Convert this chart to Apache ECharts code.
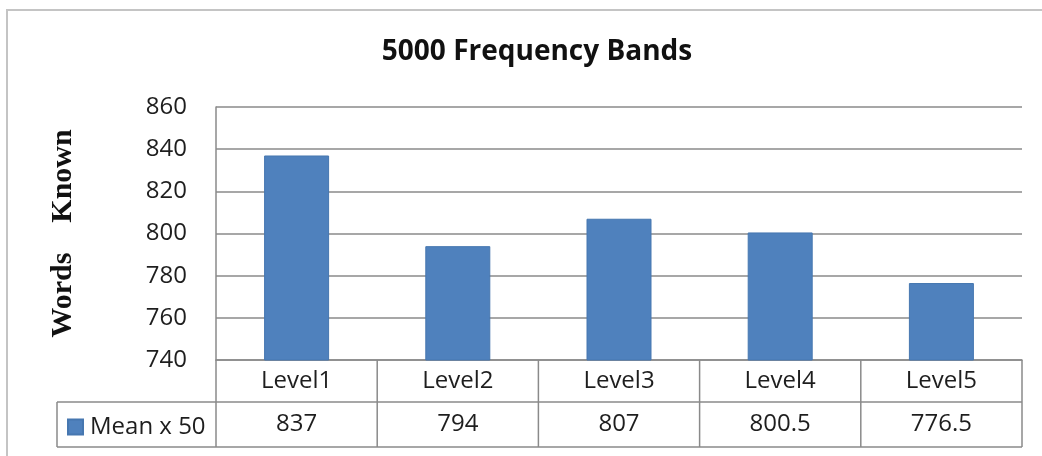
<!DOCTYPE html>
<html>
<head>
<meta charset="utf-8">
<script src="https://cdn.jsdelivr.net/npm/echarts@6/dist/echarts.min.js"></script>
<style>
  html, body { margin: 0; padding: 0; background: #fff; }
  #chart { width: 1042px; height: 456px; }
</style>
</head>
<body>
<div id="chart"></div>
<script>
// Chart data
const titleText = '5000 Frequency Bands';
const categories = ['Level1', 'Level2', 'Level3', 'Level4', 'Level5'];
const meanX50 = [837, 794, 807, 800.5, 776.5];
const seriesName = 'Mean x 50';
const yMin = 740, yMax = 860, yStep = 20;

const BAR = '#4F81BD';
const LINE = '#8a8a8a';
const TEXT = '#1e1e1e';
const SANS = '"Open Sans", "Noto Sans", sans-serif';
const FS = 24;

const chart = echarts.init(document.getElementById('chart'), null, { renderer: 'canvas' });

const gridLeft = 216, gridRight = 20, gridTop = 107, gridBottom = 96;

chart.setOption({
  animation: false,
  backgroundColor: '#fff',
  title: {
    text: titleText,
    left: 532,
    top: 33,
    textAlign: 'center',
    textStyle: { fontFamily: SANS, fontWeight: 'bold', fontSize: 28, color: '#111' }
  },
  legend: {
    left: 62,
    top: 410,
    itemWidth: 15,
    itemHeight: 15,
    itemGap: 8,
    icon: 'rect',
    selectedMode: false,
    textStyle: { fontFamily: SANS, fontSize: FS, color: TEXT, padding: [0, 0, 0, 2] },
    data: [seriesName]
  },
  grid: { left: gridLeft, right: gridRight, top: gridTop, bottom: gridBottom, containLabel: false },
  xAxis: {
    type: 'category',
    data: categories,
    axisLine: { show: true, lineStyle: { color: LINE, width: 1.5 } },
    axisTick: { show: false },
    axisLabel: {
      margin: 21,
      verticalAlign: 'middle',
      fontFamily: SANS,
      fontSize: FS,
      color: TEXT
    },
    splitLine: { show: false }
  },
  yAxis: {
    type: 'value',
    min: yMin,
    max: yMax,
    interval: yStep,
    name: 'Words    Known',
    nameLocation: 'middle',
    nameRotate: 90,
    nameGap: 138,
    nameTextStyle: {
      fontFamily: '"Liberation Serif", "DejaVu Serif", serif',
      fontWeight: 'bold',
      fontSize: 30,
      color: '#111'
    },
    axisLine: { show: true, lineStyle: { color: LINE, width: 1.5 } },
    axisTick: { show: false },
    axisLabel: { margin: 29, fontFamily: SANS, fontSize: FS, color: TEXT },
    splitLine: { show: true, lineStyle: { color: LINE, width: 1.5 } }
  },
  series: [{
    name: seriesName,
    type: 'bar',
    data: meanX50,
    barWidth: 65,
    itemStyle: { color: BAR, borderColor: '#4677b0', borderWidth: 1 }
  }]
});

// Data table beneath the plot: category row (axis labels) and value row
function drawTable() {
  const centers = categories.map(c => chart.convertToPixel({ xAxisIndex: 0 }, c));
  const band = centers.length > 1 ? centers[1] - centers[0] : 100;
  const edges = centers.map(c => c - band / 2);
  edges.push(centers[centers.length - 1] + band / 2);

  const axisY = chart.convertToPixel({ yAxisIndex: 0 }, yMin);
  const rowH1 = 42, rowH2 = 45;
  const midY = axisY + rowH1;
  const botY = midY + rowH2;
  const legendLeft = 57;
  const right = edges[edges.length - 1];

  const els = [];
  const line = (x1, y1, x2, y2) => els.push({
    type: 'line', silent: true,
    shape: { x1, y1, x2, y2 },
    style: { stroke: LINE, lineWidth: 1.5 }
  });

  // outer frame of the chart area
  els.push({
    type: 'rect', silent: true,
    shape: { x: 7, y: 10, width: 1100, height: 500 },
    style: { fill: null, stroke: '#c4c4c4', lineWidth: 2 }
  });

  line(legendLeft, midY, right, midY);
  line(legendLeft, botY, right, botY);
  line(legendLeft, midY, legendLeft, botY);
  edges.forEach(x => line(x, axisY, x, botY));

  meanX50.forEach((v, i) => {
    els.push({
      type: 'text', silent: true,
      x: centers[i], y: (midY + botY) / 2,
      style: {
        text: String(v),
        fontFamily: SANS, fontSize: FS, fill: TEXT,
        align: 'center', verticalAlign: 'middle'
      }
    });
  });

  chart.setOption({ graphic: { elements: els } });
}
drawTable();
</script>
</body>
</html>
